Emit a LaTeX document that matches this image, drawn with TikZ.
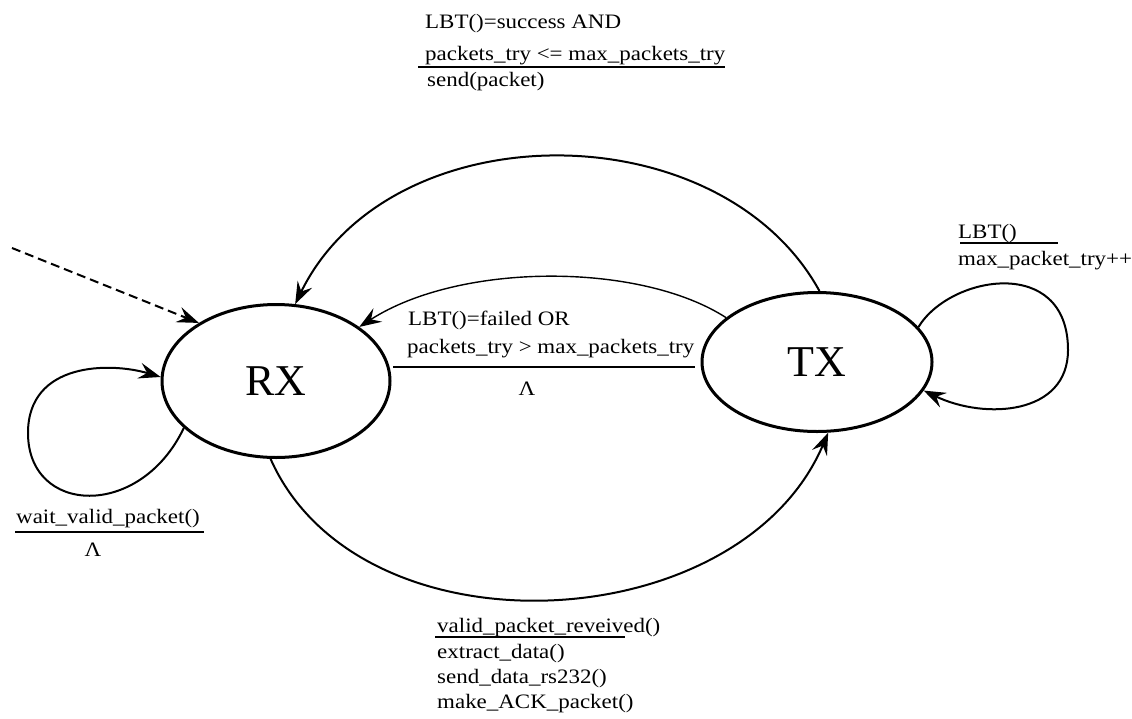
\documentclass[tikz,border=0pt]{standalone}
\usepackage{fontspec}
\setmainfont[FakeStretch=1.12]{Liberation Serif}
\newfontfamily\statefont{Liberation Serif}
\usetikzlibrary{arrows.meta,shapes.geometric}

\begin{document}
\begin{tikzpicture}[x=1pt,y=-1pt,>={Stealth[length=22pt,width=16pt,inset=8pt]},
  state/.style={ellipse,draw,line width=3pt,inner sep=0pt,
    font=\statefont\fontsize{44}{44}\selectfont},
  lbl/.style={anchor=base west,inner sep=0pt,font=\fontsize{20.5}{24}\selectfont},
  trans/.style={line width=2pt},
  bar/.style={line width=2pt}]
  \useasboundingbox (0,0) rectangle (1132,718);
  % states
  \node[state,minimum width=228pt,minimum height=153pt] (rx) at (276,381) {RX};
  \node[state,minimum width=230pt,minimum height=139pt] (tx) at (817,362) {TX};
  \coordinate (init) at (12,248);
  \coordinate (rxloop) at (28,433);
  \coordinate (txloop) at (1068,350);
  % transitions
  \draw[trans,dashed,dash pattern=on 9pt off 5pt,->] (init) -- (rx.143);
  \draw[trans,->] (tx.88) .. controls (720,110) and (390,110) .. (rx.76);
  \draw[line width=1.4pt,->] (tx.154) .. controls (640,262) and (460,262) .. (rx.33);
  \draw[trans,->] (rx.266) .. controls (360,660) and (740,640) .. (tx.279);
  \draw[trans,->] (rx.207) .. controls (140,520) and (28,515) .. (rxloop)
    .. controls (28,362) and (110,362) .. (rx.178);
  \draw[trans,->] (tx.19) .. controls (950,275) and (1068,255) .. (txloop)
    .. controls (1068,415) and (985,420) .. (tx.345);
  % labels
  \node[lbl] (succ1) at (425,28) {LBT()=success AND};
  \node[lbl] (succ2) at (425,60) {packets\_try <= max\_packets\_try};
  \draw[bar] (418,67) -- (725,67);
  \node[lbl] (succ3) at (427,86) {send(packet)};
  \node[lbl] (lbt1) at (958,238) {LBT()};
  \draw[bar] (960,243) -- (1058,243);
  \node[lbl] (lbt2) at (958,265) {max\_packet\_try++};
  \node[lbl] (fail1) at (408,325) {LBT()=failed OR};
  \node[lbl] (fail2) at (407,353) {packets\_try > max\_packets\_try};
  \draw[bar] (393,367) -- (695,367);
  \node[lbl,anchor=base] (fail3) at (527,395) {Λ};
  \node[lbl] (wait1) at (16,523) {wait\_valid\_packet()};
  \draw[bar] (15,532) -- (204,532);
  \node[lbl,anchor=base] (wait2) at (93,556) {Λ};
  \node[lbl] (recv1) at (437,632) {valid\_packet\_reveived()};
  \draw[bar] (435,637) -- (625,637);
  \node[lbl] (recv2) at (437,658) {extract\_data()};
  \node[lbl] (recv3) at (437,683) {send\_data\_rs232()};
  \node[lbl] (recv4) at (437,708) {make\_ACK\_packet()};
\end{tikzpicture}
\end{document}
